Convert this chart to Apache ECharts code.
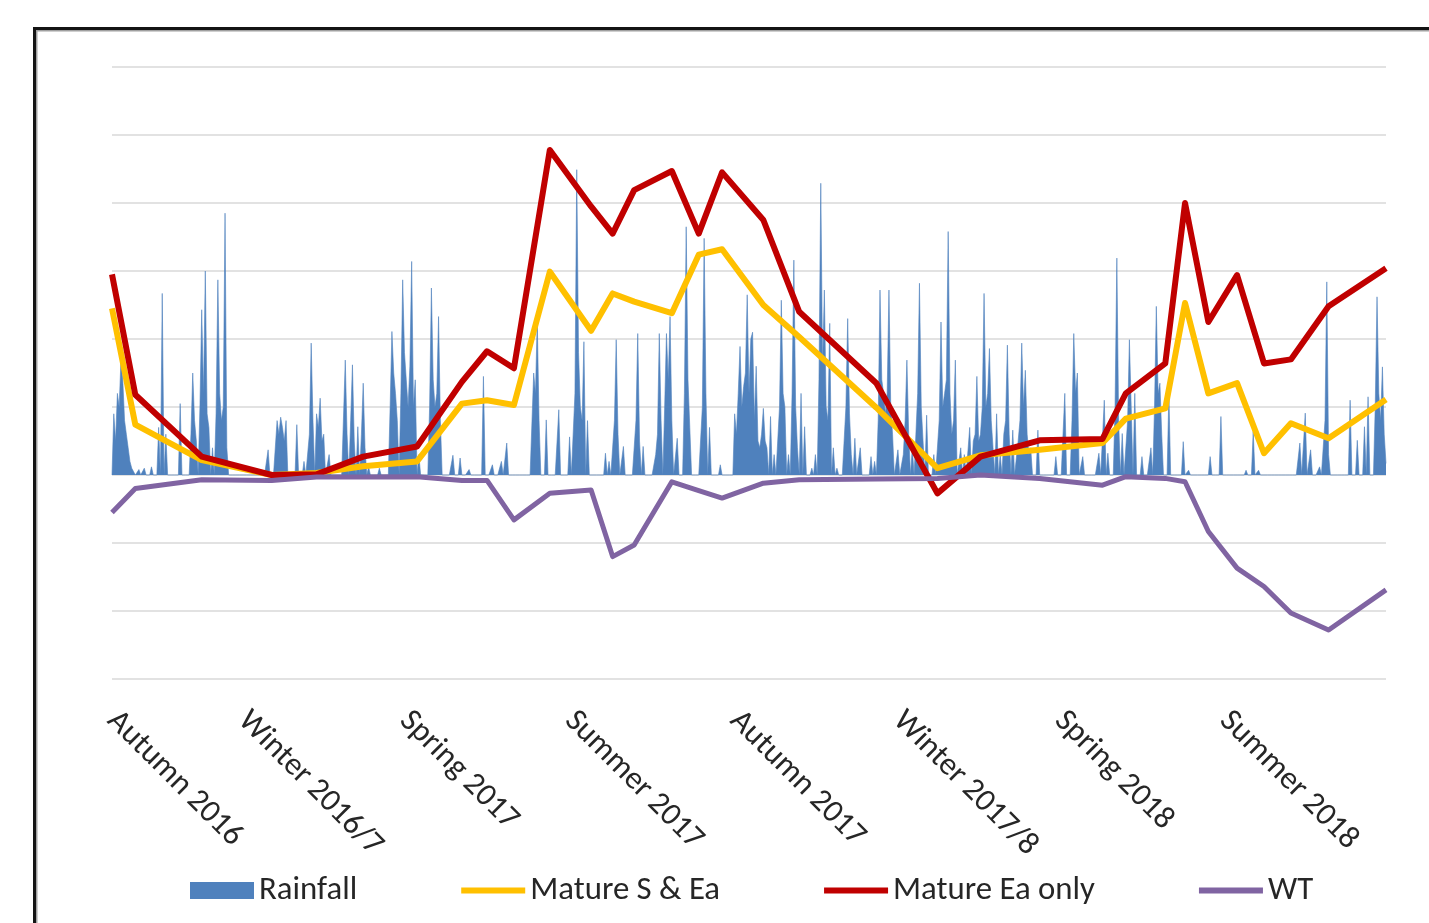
<!DOCTYPE html>
<html>
<head>
<meta charset="utf-8">
<title>Rainfall, water content and water table</title>
<script src="https://cdn.jsdelivr.net/npm/echarts@6/dist/echarts.min.js"></script>
<style>
  html, body { margin: 0; padding: 0; background: #fff; }
  #chart { width: 1429px; height: 923px; }
</style>
</head>
<body>
<div id="chart"></div>
<script>
// ---- Daily axis: one category per day ----
const startDate = '2016-09-19';
const dayCount = 711;

// ---- Season labels shown on the axis ----
const seasonStarts = ['2016-09-19', '2016-12-01', '2017-03-01', '2017-06-01',
                      '2017-09-01', '2017-12-01', '2018-03-01', '2018-06-01'];
const seasonNames = ['Autumn 2016', 'Winter 2016/7', 'Spring 2017', 'Summer 2017',
                     'Autumn 2017', 'Winter 2017/8', 'Spring 2018', 'Summer 2018'];

// ---- Survey dates shared by the three measured series ----
const sampleDates = ['2016-09-19', '2016-10-02', '2016-11-08', '2016-12-17', '2017-01-11',
  '2017-02-06', '2017-03-08', '2017-04-02', '2017-04-16', '2017-05-01', '2017-05-21',
  '2017-06-13', '2017-06-25', '2017-07-07', '2017-07-28', '2017-08-12', '2017-08-25',
  '2017-09-17', '2017-10-07', '2017-11-19', '2017-12-23', '2018-01-16', '2018-02-18',
  '2018-03-25', '2018-04-07', '2018-04-29', '2018-05-10', '2018-05-23', '2018-06-08',
  '2018-06-23', '2018-07-08', '2018-07-29', '2018-08-30'];

const matureSEa = [24.5, 7.4, 2.2, 0, 0.3, 1.3, 2.0, 10.5, 11.0, 10.3, 29.9,
  21.2, 26.7, 25.5, 23.8, 32.4, 33.2, 25.0, 20.3, 9.9, 1.0, 2.9, 3.7,
  4.7, 8.3, 9.8, 25.3, 12.0, 13.5, 3.2, 7.6, 5.4, 11.1];

const matureEaOnly = [29.5, 11.8, 2.7, 0, 0.1, 2.7, 4.2, 13.7, 18.2, 15.7, 47.8,
  39.5, 35.5, 41.9, 44.7, 35.5, 44.5, 37.5, 24.0, 13.5, -2.7, 2.7, 5.1,
  5.3, 12.0, 16.4, 40.0, 22.5, 29.4, 16.4, 17.0, 24.8, 30.4];

const waterTable = [-5.5, -2.0, -0.7, -0.8, -0.3, -0.3, -0.25, -0.8, -0.8, -6.6, -2.7,
  -2.2, -12.0, -10.3, -1.0, -2.3, -3.4, -1.2, -0.7, -0.6, -0.5, 0, -0.5,
  -1.5, -0.25, -0.5, -1.0, -8.3, -13.7, -16.4, -20.3, -22.8, -16.9];

// ---- Daily rainfall (mm) on wet days: [day number from startDate, mm] ----
const rainEvents = [
  [1, 9], [2, 5], [3, 12], [4, 10], [5, 17], [6, 14], [7, 8], [8, 6], [9, 4], [10, 2],
  [11, 1], [12, 0.5], [15, 0.8], [18, 1], [22, 1.2], [26, 7], [28, 26.7], [30, 6], [38, 10.5],
  [44, 6], [45, 15], [46, 8], [47, 5], [49, 10], [50, 24.3], [51, 12], [52, 30], [53, 9],
  [54, 7], [56, 4], [58, 9], [59, 28.7], [60, 12], [61, 8], [62, 10], [63, 38.5], [64, 4],
  [87, 3.7], [92, 8], [93, 6], [94, 8.5], [95, 7], [96, 5], [97, 8], [103, 7.4], [107, 2],
  [110, 6], [111, 19.4], [112, 8], [114, 9], [115, 7], [116, 11.3], [117, 5], [118, 6], [121, 3],
  [130, 16.9], [131, 6], [133, 8], [134, 16.2], [135, 5], [137, 7.1], [139, 6], [140, 13.5],
  [141, 4], [143, 1.2], [149, 1],
  [155, 10], [156, 21.1], [157, 15], [158, 12], [159, 8], [161, 12], [162, 28.7], [163, 18],
  [164, 14], [165, 10], [166, 16], [167, 31.4], [168, 10], [169, 14], [171, 3],
  [177, 10], [178, 27.5], [179, 14], [180, 10], [181, 12], [182, 23.3], [183, 8],
  [190, 2.9], [194, 2.5], [199, 0.8], [207, 14.5], [212, 1.5], [217, 2], [220, 4.7],
  [235, 15], [236, 12], [237, 22.8], [238, 8], [242, 8.1], [249, 9.6], [255, 5.6], [258, 12],
  [259, 44.9], [260, 18], [261, 10], [262, 8], [263, 19.6], [265, 8],
  [275, 3.2], [277, 2], [280, 8], [281, 19.9], [282, 6], [285, 4.2], [292, 8], [293, 20.8],
  [294, 5], [296, 4.2], [303, 3], [304, 6], [305, 20.8], [306, 8], [308, 10], [309, 20.8],
  [310, 14], [311, 23.3], [312, 8], [315, 5.4],
  [319, 12], [320, 36.5], [321, 14], [322, 7], [329, 10], [330, 34.8], [331, 12], [333, 7], [339, 1.5],
  [347, 9], [348, 6], [349, 12], [350, 18.9], [351, 10], [352, 13], [353, 15], [354, 26.5],
  [355, 12], [356, 20], [357, 21], [358, 8], [359, 16], [360, 5], [361, 4], [362, 6],
  [363, 9.8], [364, 5], [365, 4], [367, 8.6], [369, 3], [371, 5],
  [372, 10], [373, 25.7], [374, 12], [375, 10], [377, 3], [379, 12], [380, 31.6], [381, 10],
  [382, 4], [384, 12], [386, 7.1], [390, 1], [392, 3],
  [394, 14], [395, 42.9], [396, 16], [397, 27.2], [398, 10], [399, 8], [400, 22.3], [402, 4],
  [404, 1], [409, 10], [410, 23], [411, 9], [412, 3], [414, 5.4], [417, 4],
  [423, 2.7], [425, 2], [427, 8], [428, 27.2], [429, 14], [430, 12], [431, 9], [432, 12],
  [433, 27.2], [434, 10], [435, 6], [438, 3.7], [441, 3], [442, 8], [443, 16.9], [444, 6],
  [446, 4], [448, 6], [449, 12], [450, 28.2], [451, 10], [452, 5], [454, 8.8], [458, 3],
  [461, 8], [462, 22.5], [463, 10], [464, 12], [465, 14], [466, 35.8], [467, 12], [468, 6],
  [469, 8], [470, 16.9], [473, 4], [475, 3], [478, 7], [480, 5], [481, 6], [482, 14.5],
  [483, 5], [484, 6], [485, 10], [486, 26.7], [487, 10], [488, 12], [489, 18.6], [490, 8],
  [491, 4], [493, 9], [495, 3], [497, 6], [498, 8], [499, 19.1], [500, 6], [502, 6.6],
  [505, 5], [506, 8], [507, 19.4], [508, 10], [509, 15.4], [510, 6], [511, 3], [512, 4], [516, 6.6],
  [526, 2.7], [531, 12], [535, 8], [536, 20.8], [537, 12], [538, 15], [541, 2.7], [550, 3.2],
  [553, 11], [555, 3.2], [559, 10], [560, 31.9], [561, 8], [563, 6.1], [566, 8], [567, 19.9],
  [568, 10], [570, 12], [574, 2.7], [579, 4], [581, 10], [582, 24.8], [583, 12], [584, 13.5],
  [585, 6], [589, 12], [597, 4.9], [600, 0.7],
  [612, 2.7], [618, 8.6], [632, 0.7], [636, 6.4], [639, 0.7], [662, 4.7], [665, 9.1],
  [668, 3.7], [673, 1.2], [676, 8], [677, 28.4], [678, 3], [690, 11], [694, 5.1], [698, 7.1],
  [700, 11.5], [704, 10], [705, 26.2], [706, 12], [707, 8], [708, 15.9], [709, 6], [710, 1.7]
];

// ---- Build the day categories and the full daily rainfall row ----
const start = new Date(startDate + 'T00:00:00Z');
const days = [];
for (let i = 0; i < dayCount; i++) {
  const d = new Date(start.getTime() + i * 86400000);
  days.push(d.toISOString().slice(0, 10));
}
const rainfall = new Array(dayCount).fill(0);
rainEvents.forEach(([d, mm]) => { rainfall[d] = mm; });

const seasonByDate = {};
seasonStarts.forEach((d, i) => { seasonByDate[d] = seasonNames[i]; });

const pairs = vals => sampleDates.map((d, i) => [d, vals[i]]);

const FONT = 'Carlito, Calibri, Lato, sans-serif';
const LINE_ICON = 'path://M0,0H64V6H0Z';
const chart = echarts.init(document.getElementById('chart'));

chart.setOption({
  animation: false,
  backgroundColor: '#fff',
  grid: { left: 112, right: 43, top: 67, bottom: 244, containLabel: false },
  xAxis: {
    type: 'category',
    data: days,
    boundaryGap: false,
    axisLine: { show: false },
    axisTick: { show: false },
    splitLine: { show: false },
    axisLabel: {
      interval: (idx, val) => seasonByDate[val] !== undefined,
      formatter: val => seasonByDate[val] || '',
      rotate: -45,
      margin: 37,
      fontSize: 32,
      fontFamily: FONT,
      color: '#262626'
    }
  },
  yAxis: {
    type: 'value',
    min: -30,
    max: 60,
    interval: 10,
    axisLine: { show: false },
    axisTick: { show: false },
    axisLabel: { show: false },
    splitLine: { lineStyle: { color: '#d9d9d9', width: 1.5 } }
  },
  legend: {
    left: 185,
    top: 869,
    itemWidth: 64,
    itemHeight: 17,
    itemGap: 104,
    symbolKeepAspect: true,
    textStyle: { fontSize: 32.8, fontFamily: FONT, color: '#262626', padding: [0, 0, 0, 0] },
    data: [
      { name: 'Rainfall', icon: 'rect' },
      { name: 'Mature S & Ea', icon: LINE_ICON },
      { name: 'Mature Ea only', icon: LINE_ICON },
      { name: 'WT', icon: LINE_ICON }
    ]
  },
  graphic: [
    { type: 'rect', silent: true, z: 100,
      shape: { x: 36.5, y: 30.5, width: 1500, height: 1000 },
      style: { fill: 'none', stroke: '#a0a0a0', lineWidth: 2 } },
    { type: 'rect', silent: true, z: 101,
      shape: { x: 34.5, y: 28.5, width: 1500, height: 1000 },
      style: { fill: 'none', stroke: '#141414', lineWidth: 3 } }
  ],
  series: [
    {
      name: 'Rainfall',
      type: 'line',
      data: rainfall,
      symbol: 'none',
      lineStyle: { width: 0.6, color: '#4F81BD' },
      itemStyle: { color: '#4F81BD' },
      areaStyle: { color: '#4F81BD', opacity: 1 },
      z: 1
    },
    {
      name: 'Mature S & Ea',
      type: 'line',
      data: pairs(matureSEa),
      symbol: 'none',
      lineStyle: { width: 6, color: '#FFC000', join: 'round' },
      itemStyle: { color: '#FFC000' },
      z: 3
    },
    {
      name: 'Mature Ea only',
      type: 'line',
      data: pairs(matureEaOnly),
      symbol: 'none',
      lineStyle: { width: 6, color: '#C00000', join: 'round' },
      itemStyle: { color: '#C00000' },
      z: 4
    },
    {
      name: 'WT',
      type: 'line',
      data: pairs(waterTable),
      symbol: 'none',
      lineStyle: { width: 5, color: '#8064A2', join: 'round' },
      itemStyle: { color: '#8064A2' },
      z: 5
    }
  ]
});
</script>
</body>
</html>
